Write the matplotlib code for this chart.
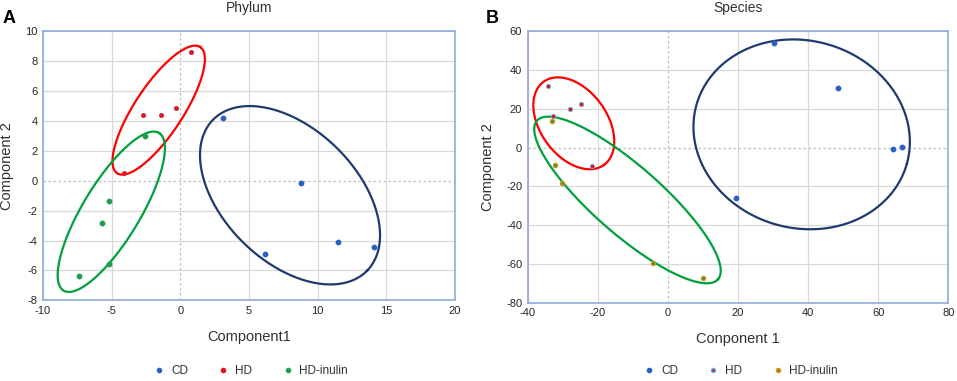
import numpy as np
import matplotlib
matplotlib.use("Agg")
import matplotlib.pyplot as plt
from matplotlib.lines import Line2D

plt.rcParams["font.family"] = ["Liberation Sans", "DejaVu Sans"]
plt.rcParams["axes.unicode_minus"] = False

# Panel A - Phylum
phy_cd_x = [3.1, 8.8, 6.2, 11.5, 14.1]
phy_cd_y = [4.2, -0.15, -4.9, -4.1, -4.4]
phy_hd_x = [0.8, -2.7, -1.4, -0.3, -4.1]
phy_hd_y = [8.6, 4.4, 4.4, 4.9, 0.5]
phy_in_x = [-2.6, -5.2, -5.7, -5.2, -7.4]
phy_in_y = [3.0, -1.35, -2.85, -5.6, -6.4]

# Panel B - Species
sp_cd_x = [30.3, 48.6, 64.3, 66.9, 19.4]
sp_cd_y = [53.8, 30.6, -0.9, 0.5, -26.1]
sp_hd_x = [-34.3, -27.9, -24.9, -21.7, -32.7]
sp_hd_y = [32.0, 20.1, 22.3, -9.5, 16.3]
sp_in_x = [-33.2, -32.1, -30.1, -4.25, 9.9]
sp_in_y = [13.9, -9.0, -18.1, -59.3, -67.1]

# ellipses: major-axis end points (data) and minor/major ratio
phy_ellipses = [
    ((-4.6, 0.5), (1.45, 8.95), 0.32, "#FF0000"),
    ((-8.5, -7.35), (-1.55, 3.2), 0.31, "#00A03C"),
    ((2.38, 4.08), (13.6, -6.02), 0.617, "#1F3A6E"),
]
sp_ellipses = [
    ((-35.46, 34.0), (-18.23, -8.9), 0.648, "#FF0000"),
    ((-37.35, 13.9), (14.3, -67.9), 0.283, "#00A03C"),
    ((8.13, 21.9), (68.2, -8.2), 0.858, "#1F3A6E"),
]

groups = ["CD", "HD", "HD-inulin"]
frame_col = "#8FAADC"
blue = "#2B5FC0"


def draw_ellipse(ax, p1, p2, ratio, color):
    t = np.linspace(0, 2 * np.pi, 300)
    a = ax.transData.transform(p1)
    b = ax.transData.transform(p2)
    c = (a + b) / 2
    u = (b - a) / 2
    v = np.array([-u[1], u[0]]) * ratio
    pts = c + np.outer(np.cos(t), u) + np.outer(np.sin(t), v)
    d = ax.transData.inverted().transform(pts)
    ax.plot(d[:, 0], d[:, 1], color=color, lw=1.6, zorder=2)


def style_axes(ax, xlim, ylim, xticks, yticks):
    ax.set_xlim(xlim)
    ax.set_ylim(ylim)
    ax.set_xticks(xticks)
    ax.set_yticks(yticks)
    for x in xticks:
        if x != 0:
            ax.axvline(x, color="#D9D9D9", lw=0.9, zorder=0)
    for y in yticks:
        if y != 0:
            ax.axhline(y, color="#D9D9D9", lw=0.9, zorder=0)
    ax.axvline(0, color="#BFBFBF", lw=0.9, ls=(0, (2, 2)), zorder=0)
    ax.axhline(0, color="#BFBFBF", lw=0.9, ls=(0, (2, 2)), zorder=0)
    for s in ax.spines.values():
        s.set_color(frame_col)
        s.set_linewidth(1.2)
    ax.tick_params(length=0, labelsize=8, colors="#262626", pad=4)


fig = plt.figure(figsize=(9.57, 3.81), dpi=100)
axA = fig.add_axes([0.0449, 0.2118, 0.4305, 0.706])
axB = fig.add_axes([0.5514, 0.2055, 0.4395, 0.7123])

style_axes(axA, (-10, 20), (-8, 10), range(-10, 21, 5), range(-8, 11, 2))
style_axes(axB, (-40, 80), (-80, 60), range(-40, 81, 20), range(-80, 61, 20))

for p1, p2, r, col in phy_ellipses:
    draw_ellipse(axA, p1, p2, r, col)
for p1, p2, r, col in sp_ellipses:
    draw_ellipse(axB, p1, p2, r, col)

ms = 10
axA.scatter(phy_cd_x, phy_cd_y, s=ms, color=blue, zorder=3)
axA.scatter(phy_hd_x, phy_hd_y, s=ms, color="#E8101E", edgecolor="#A03040", lw=0.4, zorder=3)
axA.scatter(phy_in_x, phy_in_y, s=ms, color="#1E9E50", zorder=3)

axB.scatter(sp_cd_x, sp_cd_y, s=ms, color=blue, zorder=3)
axB.scatter(sp_hd_x, sp_hd_y, s=ms, color="#E8101E", edgecolor="#5BC0E8", lw=0.6, zorder=3)
axB.scatter(sp_in_x, sp_in_y, s=ms, color="#3FA040", edgecolor="#F08A10", lw=0.8, zorder=3)

axA.set_title("Phylum", fontsize=10, color="#303030", pad=14)
axB.set_title("Species", fontsize=10, color="#303030", pad=14)
axA.set_xlabel("Component1", fontsize=10.5, color="#303030", labelpad=10)
axB.set_xlabel("Conponent 1", fontsize=10.5, color="#303030", labelpad=10)
axA.set_ylabel("Component 2", fontsize=10.5, color="#303030", labelpad=8)
axB.set_ylabel("Component 2", fontsize=10.5, color="#303030", labelpad=8)

fig.text(0.003, 0.975, "A", fontsize=13, fontweight="bold", va="top")
fig.text(0.508, 0.975, "B", fontsize=13, fontweight="bold", va="top")

hA = [
    Line2D([], [], ls="", marker="o", ms=3, color=blue),
    Line2D([], [], ls="", marker="o", ms=3, color="#E8101E"),
    Line2D([], [], ls="", marker="o", ms=3, color="#1E9E50"),
]
hB = [
    Line2D([], [], ls="", marker="o", ms=3, color=blue),
    Line2D([], [], ls="", marker="o", ms=3, color="#E8101E", mec="#5BC0E8"),
    Line2D([], [], ls="", marker="o", ms=3, color="#3FA040", mec="#F08A10"),
]
for h, cx in ((hA, 0.262), (hB, 0.774)):
    fig.legend(h, groups, loc="center", bbox_to_anchor=(cx, 0.027), ncol=3,
               frameon=False, fontsize=8.5, columnspacing=2.5, handletextpad=0.5,
               handlelength=1.0, labelcolor="#303030")

fig.savefig("out.png", dpi=100)
